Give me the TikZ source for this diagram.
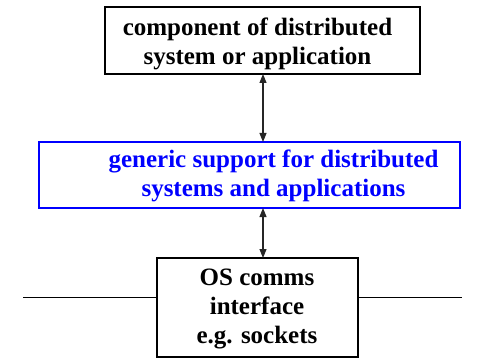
\documentclass[tikz,border=0pt]{standalone}
\usepackage{fontspec}
\setmainfont{Liberation Serif}
\usetikzlibrary{arrows.meta}
\begin{document}
\begin{tikzpicture}[x=1pt,y=-1pt,
  boxtext/.style={font=\fontsize{25}{29}\selectfont\bfseries, align=center, inner sep=0pt},
  frame/.style={draw=black, line width=1.3pt},
  bluefr/.style={draw=blue, line width=1.1pt},
  link/.style={line width=1.1pt, draw=black!85, {Triangle[width=7pt,length=9pt]}-{Triangle[width=7pt,length=9pt]}},
  wire/.style={line width=1pt, draw=black}]
\useasboundingbox (0,0) rectangle (479,358);

% application component
\draw[frame] (105,7) rectangle (420,74);
\node[boxtext] (app) at (257.5,43.5) {component of distributed\\system or application};
\coordinate (appS) at (263,74);

% middleware layer
\draw[bluefr] (39,142) rectangle (460,208);
\node[boxtext, text=blue] (mw) at (273.5,176) {generic support for distributed\\systems and applications};
\coordinate (mwN) at (263,142);
\coordinate (mwS) at (263,208);

% OS communication interface
\draw[frame] (157,258) rectangle (358,357);
\node[boxtext] (os) at (257,309) {OS comms\\interface\\e.g. sockets};
\coordinate (osN) at (263,258);
\coordinate (osW) at (157,297);
\coordinate (osE) at (358,297);
\coordinate (netW) at (23,297);
\coordinate (netE) at (462,297);

% connectors
\draw[link] (appS) -- (mwN);
\draw[link] (mwS) -- (osN);
\draw[wire] (netW) -- (osW);
\draw[wire] (osE) -- (netE);
\end{tikzpicture}
\end{document}
